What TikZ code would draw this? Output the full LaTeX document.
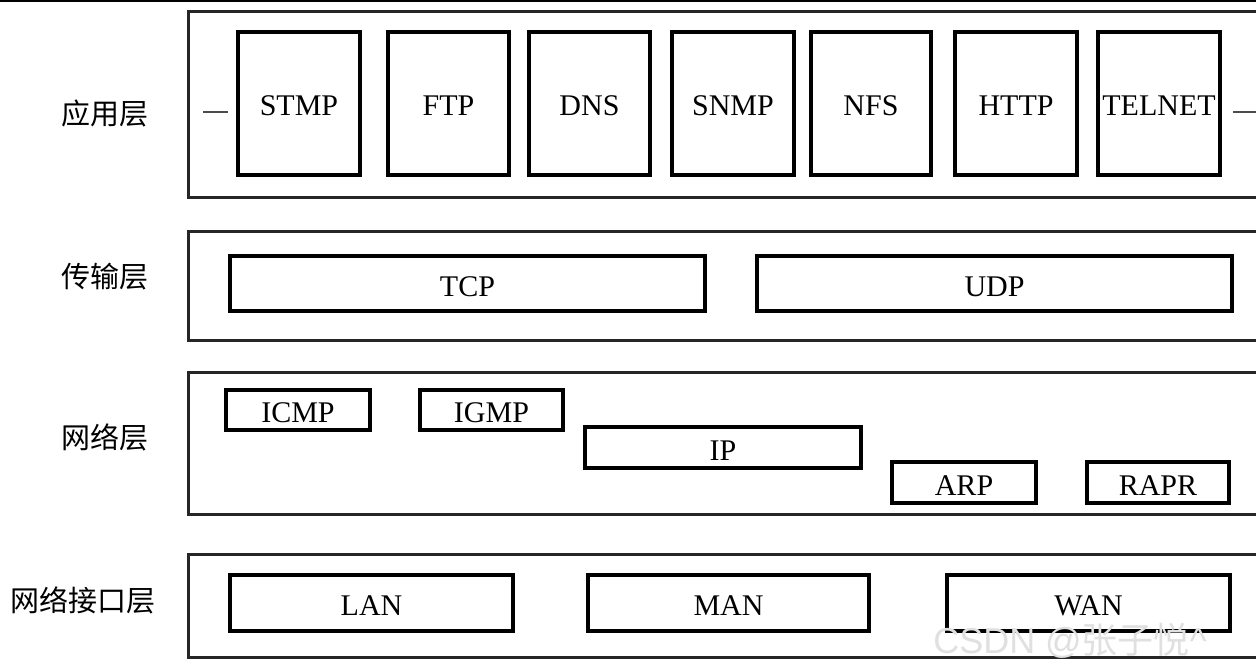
\documentclass[tikz,border=0pt]{standalone}
\usepackage{fontspec}
\setmainfont{Liberation Serif}
\newfontfamily\cjk{Noto Sans CJK SC}
\newfontfamily\wmfont{Liberation Sans}
\newcommand\bx[6]{\node[box, minimum width={#4-#2}, minimum height={#5-#3}] (#1) at ({(#2+#4)/2},{(#3+#5)/2}) {#6};}
\newcommand\lay[5]{\node[layerbox, minimum width={#4-#2}, minimum height={#5-#3}] (#1) at ({(#2+#4)/2},{(#3+#5)/2}) {};}
\tikzset{
  box/.style={draw=black, line width=3.4pt, inner sep=0pt, outer sep=0pt, fill=white,
    font=\fontsize{30}{34}\selectfont, text height=25pt, text depth=0pt},
  layerbox/.style={draw=black!85, line width=3pt, inner sep=0pt, outer sep=0pt},
  lab/.style={font=\cjk\fontsize{29}{32}\selectfont, inner sep=0pt},
  dashline/.style={draw=black!70, line width=2.5pt}
}
\begin{document}
\begin{tikzpicture}[x=1pt,y=-1pt]
\useasboundingbox (0,0) rectangle (1256,666);
\clip (0,0) rectangle (1256,666);
\fill[white] (0,0) rectangle (1256,666);
\coordinate (tl) at (0,1);
\coordinate (tr) at (1256,1);
\draw[line width=3pt] (tl) -- (tr);
% layers
\lay{L1}{188}{12}{1275}{197}
\lay{L2}{188}{231}{1275}{340}
\lay{L3}{188}{372}{1275}{514}
\lay{L4}{188}{554}{1275}{657}
% labels
\node[lab] (l1) at (105,113) {应用层};
\node[lab] (l2) at (105,277) {传输层};
\node[lab] (l3) at (105,437) {网络层};
\node[lab] (l4) at (83,600) {网络接口层};
% application
\bx{stmp}{238}{32}{360}{175}{STMP}
\bx{ftp}{388}{32}{509}{175}{FTP}
\bx{dns}{529}{32}{650}{175}{DNS}
\bx{snmp}{672}{32}{794}{175}{SNMP}
\bx{nfs}{811}{32}{931}{175}{NFS}
\bx{http}{955}{32}{1077}{175}{HTTP}
\bx{telnet}{1098}{32}{1220}{175}{TELNET}
\coordinate (dl) at (203,112);
\coordinate (dl2) at (228,112);
\coordinate (dr) at (1233,112);
\coordinate (dr2) at (1258,112);
\draw[dashline] (dl) -- (dl2);
\draw[dashline] (dr) -- (dr2);
% transport
\bx{tcp}{230}{256}{705}{311}{TCP}
\bx{udp}{757}{256}{1232}{311}{UDP}
% network
\bx{icmp}{226}{390}{370}{430}{ICMP}
\bx{igmp}{420}{390}{563}{430}{IGMP}
\bx{ip}{585}{427}{861}{468}{IP}
\bx{arp}{892}{462}{1036}{503}{ARP}
\bx{rapr}{1087}{462}{1229}{503}{RAPR}
% interface
\bx{lan}{230}{575}{513}{631}{LAN}
\bx{man}{588}{575}{869}{631}{MAN}
\bx{wan}{947}{575}{1230}{631}{WAN}
% watermark
\node[text=black!12, font=\wmfont\fontsize{36}{40}\selectfont, inner sep=0pt] (wm) at (1070,641) {CSDN @{\cjk 张子悦}\textasciicircum};
\end{tikzpicture}
\end{document}
